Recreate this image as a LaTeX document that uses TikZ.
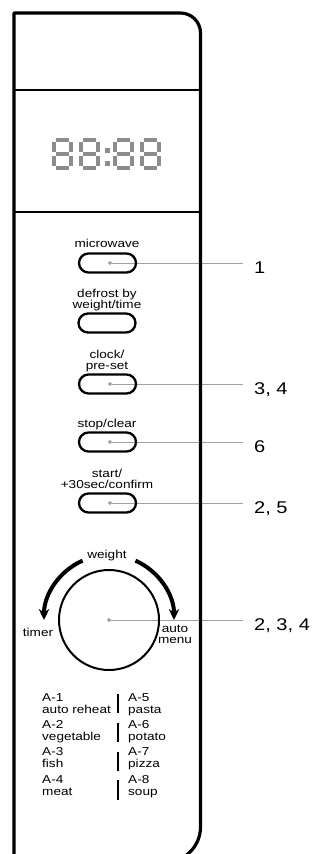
\documentclass[tikz,border=0pt]{standalone}
\usepackage{fontspec}
\setmainfont[FakeStretch=1.18]{Liberation Sans}
\usetikzlibrary{arrows.meta}
\definecolor{leadc}{HTML}{A0A0A0}
\definecolor{segc}{HTML}{8C8C8C}
\newcommand\sevenseg[2]{%
  \draw[seg] (#1+3.6,#2+1.8) -- (#1+17.4,#2+1.8);
  \draw[seg] (#1+3.6,#2+16) -- (#1+17.4,#2+16);
  \draw[seg] (#1+3.6,#2+30.2) -- (#1+17.4,#2+30.2);
  \draw[seg] (#1+1.8,#2+3.6) -- (#1+1.8,#2+14.4);
  \draw[seg] (#1+19.2,#2+3.6) -- (#1+19.2,#2+14.4);
  \draw[seg] (#1+1.8,#2+17.6) -- (#1+1.8,#2+28.4);
  \draw[seg] (#1+19.2,#2+17.6) -- (#1+19.2,#2+28.4);
}
\begin{document}
\begin{tikzpicture}[x=1pt,y=-1pt,
  panel/.style={line width=3.2pt,line join=round},
  divider/.style={line width=2.6pt},
  seg/.style={segc,line width=3.6pt},
  pill/.style={draw,line width=2.3pt,rounded corners=9.5pt,minimum width=57pt,minimum height=19pt,inner sep=0pt},
  lab/.style={font=\fontsize{11.5}{11.5}\selectfont,inner sep=0pt,align=center},
  menu/.style={font=\fontsize{11.5}{12}\selectfont,inner sep=0pt,align=left,anchor=north west},
  num/.style={font=\fontsize{17}{18}\selectfont,inner sep=0pt,anchor=base west},
  dot/.style={circle,fill=leadc,inner sep=0pt,minimum size=3.6pt},
  leader/.style={leadc,line width=1pt},
  bar/.style={line width=2.6pt},
  turn/.style={line width=4pt,-{Stealth[length=11pt,width=10.5pt]}}]
\useasboundingbox (0,0) rectangle (320,854);
\clip (0,0) rectangle (320,854);
% leaders first
\node[dot] (d1) at (110,263) {};
\node[dot] (d3) at (110,384) {};
\node[dot] (d6) at (110,442) {};
\node[dot] (d2) at (110,503) {};
\node[dot] (dk) at (109,620) {};
\coordinate (e1) at (243,263);
\coordinate (e3) at (243,384);
\coordinate (e6) at (243,442);
\coordinate (e2) at (243,503);
\coordinate (ek) at (243,620);
\draw[leader] (d1) -- (e1);
\draw[leader] (d3) -- (e3);
\draw[leader] (d6) -- (e6);
\draw[leader] (d2) -- (e2);
\draw[leader] (dk) -- (ek);
\node[num] (n1) at (254,273) {1};
\node[num] (n3) at (254,394) {3, 4};
\node[num] (n6) at (254,452) {6};
\node[num] (n2) at (254,513) {2, 5};
\node[num] (nk) at (254,630) {2, 3, 4};
% panel
\draw[panel] (14,880) -- (14,13) -- (180.5,13) arc[start angle=-90,end angle=0,radius=20]
  -- (200.5,827) arc[start angle=0,end angle=90,radius=35] -- (14,862);
\draw[divider] (14,90) -- (200.5,90);
\draw[divider] (14,212) -- (200.5,212);
% display
\sevenseg{52}{138}
\sevenseg{79}{138}
\sevenseg{113}{138}
\sevenseg{140}{138}
\fill[segc] (105,148) rectangle (109.5,152.5);
\fill[segc] (105,161) rectangle (109.5,165.5);
% buttons
\node[pill] (b1) at (107.5,263) {};
\node[pill] (b2) at (107,323) {};
\node[pill] (b3) at (107.5,384) {};
\node[pill] (b4) at (107.5,442) {};
\node[pill] (b5) at (107.5,503) {};
\node[dot] at (d1) {};
\node[dot] at (d3) {};
\node[dot] at (d6) {};
\node[dot] at (d2) {};
\node[lab,anchor=base] (t1) at (107,247) {microwave};
\node[lab,anchor=north] (t2) at (107,288.6) {defrost by\\weight/time};
\node[lab,anchor=north] (t3) at (107,349.6) {clock/\\pre-set};
\node[lab,anchor=base] (t4) at (107,427) {stop/clear};
\node[lab,anchor=north] (t5) at (107,468.6) {start/\\+30sec/confirm};
% knob
\node[circle,draw,line width=2pt,minimum size=100pt,inner sep=0pt] (knob) at (109,620) {};
\node[dot] at (dk) {};
\draw[turn] (109,620) ++(-114:65) arc[start angle=-114,end angle=-180,radius=65];
\draw[turn] (109,620) ++(-66:65) arc[start angle=-66,end angle=0,radius=65];
\node[lab,anchor=base] (tw) at (107,558) {weight};
\node[lab,anchor=base] (tt) at (38,636) {timer};
\node[lab,anchor=north] (ta) at (175,624.5) {auto\\menu};
% menu list
\node[menu] (m1) at (42,693) {A-1\\auto reheat};
\node[menu] (m2) at (42,720) {A-2\\vegetable};
\node[menu] (m3) at (42,747.5) {A-3\\fish};
\node[menu] (m4) at (42,775.5) {A-4\\meat};
\node[menu] (m5) at (128,693) {A-5\\pasta};
\node[menu] (m6) at (128,720) {A-6\\potato};
\node[menu] (m7) at (128,747.5) {A-7\\pizza};
\node[menu] (m8) at (128,775.5) {A-8\\soup};
\draw[bar] (118,694) -- (118,713);
\draw[bar] (118,723) -- (118,742);
\draw[bar] (118,752) -- (118,771);
\draw[bar] (118,780) -- (118,800);
\end{tikzpicture}
\end{document}
